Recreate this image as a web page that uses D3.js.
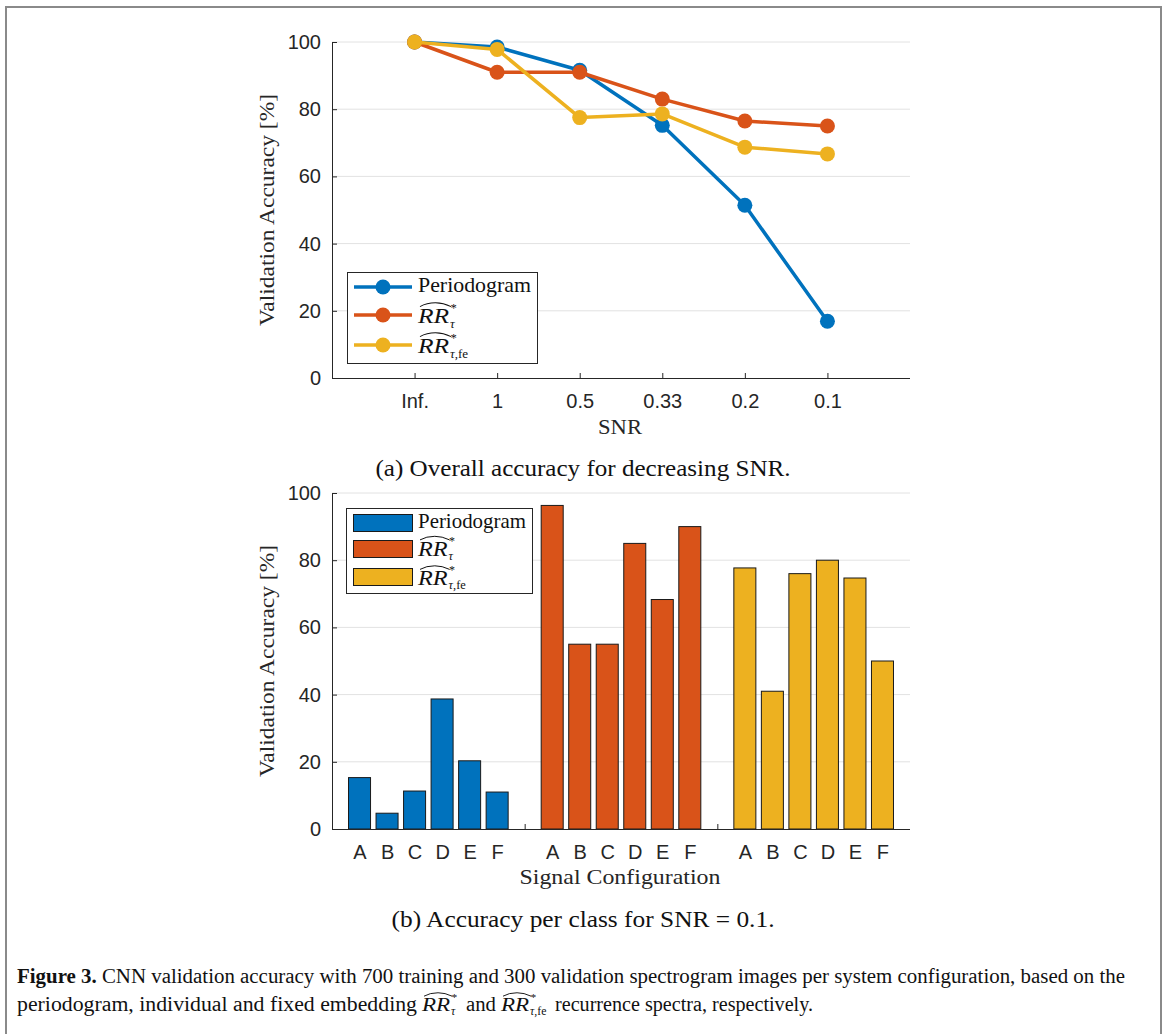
<!DOCTYPE html>
<html><head><meta charset="utf-8">
<script src="https://cdn.jsdelivr.net/npm/d3@7"></script>
<style>body{margin:0;background:#fff}</style>
</head><body><svg id="c" width="1170" height="1034"></svg>
<script>
// ---- data ----
const snrLabels = ["Inf.", "1", "0.5", "0.33", "0.2", "0.1"];
const periodogramAcc = [100, 98.5, 91.6, 75.2, 51.4, 16.9];
const rrTauAcc = [100, 91.0, 91.0, 83.0, 76.5, 75.0];
const rrFeAcc = [100, 97.8, 77.5, 78.6, 68.7, 66.7];

const configLabels = ["A", "B", "C", "D", "E", "F"];
const periodogramClass = [15.3, 4.7, 11.3, 38.7, 20.3, 11.0];
const rrTauClass = [96.3, 55.0, 55.0, 85.0, 68.3, 90.0];
const rrFeClass = [77.7, 41.0, 76.0, 80.0, 74.7, 50.0];

const seriesKeys = ["periodogram", "rrTau", "rrFe"];
const yTicks = [0, 20, 40, 60, 80, 100];

// ---- styles ----
const colors = ["#0072BD", "#D95319", "#EDB120"];
const SANS = "'Liberation Sans', Arial, sans-serif";
const SERIF = "'Liberation Serif', 'Times New Roman', serif";
const AX = "#262626";
const GRID = "#e2e2e2";

const svg = d3.select("#c");

// frame
svg.append("path").attr("d", "M6,1034 V7 H1161 V1034")
  .attr("fill", "none").attr("stroke", "#8a8a8a").attr("stroke-width", 2);

function mathRR(parent, x, y, size, fe) {
  const g = parent.append("g");
  const w = size * 1.48;
  g.append("text").attr("x", x).attr("y", y)
    .style("font-family", SERIF).style("font-style", "italic")
    .style("font-size", size + "px").attr("fill", "#111")
    .attr("textLength", w).attr("lengthAdjust", "spacingAndGlyphs").text("RR");
  const hb = y - size * 0.78, hp = y - size * 0.96;
  g.append("path")
    .attr("d", `M${x + 2},${hb} Q${x + w * 0.28},${hp} ${x + w / 2 + 2},${hp} Q${x + w * 0.75 + 2},${hp} ${x + w + 2},${hb}`)
    .attr("fill", "none").attr("stroke", "#111").attr("stroke-width", Math.max(0.9, size / 20));
  g.append("text").attr("x", x + w + 1.5).attr("y", y - size * 0.54)
    .style("font-family", SERIF).style("font-size", (size * 0.6) + "px").attr("fill", "#111").text("*");
  const s = g.append("text").attr("x", x + w + 1).attr("y", y + size * 0.22)
    .style("font-family", SERIF).style("font-size", (size * 0.62) + "px").attr("fill", "#111");
  s.append("tspan").style("font-style", "italic").text("τ");
  if (fe) s.append("tspan").text(",fe");
  return w;
}

function drawGrid(g, y, x0, x1) {
  g.append("g").selectAll("line").data(yTicks.filter(d => d > 0)).join("line")
    .attr("x1", x0).attr("x2", x1).attr("y1", d => y(d)).attr("y2", d => y(d))
    .attr("stroke", GRID).attr("stroke-width", 1);
}

function styleAxis(sel) {
  sel.selectAll("path.domain").attr("stroke", AX);
  sel.selectAll(".tick line").attr("stroke", AX);
  sel.selectAll(".tick text").attr("fill", AX).style("font-family", SANS).style("font-size", "20px");
}

function yLabel(g, cx, cy) {
  g.append("text").attr("transform", `translate(${cx},${cy}) rotate(-90)`)
    .attr("text-anchor", "middle").style("font-family", SERIF).style("font-size", "22px")
    .attr("fill", AX).attr("textLength", 232).attr("lengthAdjust", "spacingAndGlyphs")
    .text("Validation Accuracy [%]");
}

// ================= (a) line chart =================
{
  const L = 332, R = 910, T = 42, B = 378;
  const x = d3.scaleLinear().domain([0, 7]).range([L, R]);
  const y = d3.scaleLinear().domain([0, 100]).range([B, T]);
  const g = svg.append("g");
  drawGrid(g, y, L, R);

  const xa = g.append("g").attr("transform", `translate(0,${B})`)
    .call(d3.axisBottom(x).tickValues(d3.range(1, 7)).tickFormat(d => snrLabels[d - 1])
      .tickSizeInner(-5).tickSizeOuter(0).tickPadding(16));
  xa.select("path.domain").attr("d", `M${L},0.5H${R}`);
  styleAxis(xa);
  const ya = g.append("g").attr("transform", `translate(${L},0)`)
    .call(d3.axisLeft(y).tickValues(yTicks).tickSizeInner(-5).tickSizeOuter(0).tickPadding(11));
  styleAxis(ya);

  const data = [periodogramAcc, rrTauAcc, rrFeAcc];
  const line = d3.line().x((d, i) => x(i + 1)).y(d => y(d));
  data.forEach((vals, si) => {
    g.append("path").datum(vals).attr("d", line).attr("fill", "none")
      .attr("stroke", colors[si]).attr("stroke-width", 3.5).attr("stroke-linejoin", "round");
    g.append("g").selectAll("circle").data(vals).join("circle")
      .attr("cx", (d, i) => x(i + 1)).attr("cy", d => y(d)).attr("r", 7.5).attr("fill", colors[si]);
  });

  yLabel(g, 274, (T + B) / 2);
  g.append("text").attr("x", 620).attr("y", 434).attr("text-anchor", "middle")
    .style("font-family", SERIF).style("font-size", "21px").attr("fill", AX)
    .attr("textLength", 44).attr("lengthAdjust", "spacingAndGlyphs").text("SNR");

  // legend
  const lg = g.append("g");
  lg.append("rect").attr("x", 347.5).attr("y", 272.5).attr("width", 190).attr("height", 91)
    .attr("fill", "#fff").attr("stroke", AX).attr("stroke-width", 1);
  const rows = [287, 315, 345];
  seriesKeys.forEach((k, i) => {
    lg.append("line").attr("x1", 354).attr("x2", 412).attr("y1", rows[i]).attr("y2", rows[i])
      .attr("stroke", colors[i]).attr("stroke-width", 3.5);
    lg.append("circle").attr("cx", 383).attr("cy", rows[i]).attr("r", 7.5).attr("fill", colors[i]);
  });
  lg.append("text").attr("x", 418).attr("y", 292).style("font-family", SERIF).style("font-size", "21px")
    .attr("fill", "#111").attr("textLength", 113).attr("lengthAdjust", "spacingAndGlyphs").text("Periodogram");
  mathRR(lg, 418, 323, 21, false);
  mathRR(lg, 418, 353, 21, true);

  svg.append("text").attr("x", 583).attr("y", 476).attr("text-anchor", "middle")
    .style("font-family", SERIF).style("font-size", "23px").attr("fill", "#111")
    .attr("textLength", 415).attr("lengthAdjust", "spacingAndGlyphs")
    .text("(a) Overall accuracy for decreasing SNR.");
}

// ================= (b) bar chart =================
{
  const L = 332, R = 910, T = 493, B = 829;
  const x = d3.scaleLinear().domain([0, 21]).range([L, R]);
  const y = d3.scaleLinear().domain([0, 100]).range([B, T]);
  const g = svg.append("g");
  drawGrid(g, y, L, R);

  const pos = d3.range(1, 21);
  const labelAt = p => (p % 7 === 0 ? "" : configLabels[(p % 7) - 1]);
  const xa = g.append("g").attr("transform", `translate(0,${B})`)
    .call(d3.axisBottom(x).tickValues(pos).tickFormat(labelAt)
      .tickSizeInner(-5).tickSizeOuter(0).tickPadding(16));
  xa.select("path.domain").attr("d", `M${L},0.5H${R}`);
  styleAxis(xa);
  const ya = g.append("g").attr("transform", `translate(${L},0)`)
    .call(d3.axisLeft(y).tickValues(yTicks).tickSizeInner(-5).tickSizeOuter(0).tickPadding(11));
  styleAxis(ya);

  const data = [periodogramClass, rrTauClass, rrFeClass];
  const bw = (x(1) - x(0)) * 0.8;
  data.forEach((vals, si) => {
    g.append("g").selectAll("rect").data(vals).join("rect")
      .attr("x", (d, i) => x(si * 7 + i + 1) - bw / 2).attr("width", bw)
      .attr("y", d => y(d)).attr("height", d => y(0) - y(d))
      .attr("fill", colors[si]).attr("stroke", "#1a1a1a").attr("stroke-width", 1);
  });
  g.append("line").attr("x1", L).attr("x2", R).attr("y1", B + 0.5).attr("y2", B + 0.5).attr("stroke", AX);

  yLabel(g, 274, (T + B) / 2);
  g.append("text").attr("x", 620).attr("y", 884).attr("text-anchor", "middle")
    .style("font-family", SERIF).style("font-size", "21px").attr("fill", AX)
    .attr("textLength", 201).attr("lengthAdjust", "spacingAndGlyphs").text("Signal Configuration");

  const lg = g.append("g");
  lg.append("rect").attr("x", 346.5).attr("y", 508.5).attr("width", 186).attr("height", 85)
    .attr("fill", "#fff").attr("stroke", AX).attr("stroke-width", 1);
  const rows = [523, 549, 577];
  seriesKeys.forEach((k, i) => {
    lg.append("rect").attr("x", 353.5).attr("y", rows[i] - 8.5).attr("width", 59).attr("height", 17)
      .attr("fill", colors[i]).attr("stroke", "#1a1a1a").attr("stroke-width", 1);
  });
  lg.append("text").attr("x", 418).attr("y", 528).style("font-family", SERIF).style("font-size", "21px")
    .attr("fill", "#111").attr("textLength", 108).attr("lengthAdjust", "spacingAndGlyphs").text("Periodogram");
  mathRR(lg, 418, 555.5, 20, false);
  mathRR(lg, 418, 585, 20, true);

  svg.append("text").attr("x", 583).attr("y", 927).attr("text-anchor", "middle")
    .style("font-family", SERIF).style("font-size", "23px").attr("fill", "#111")
    .attr("textLength", 383).attr("lengthAdjust", "spacingAndGlyphs")
    .text("(b) Accuracy per class for SNR = 0.1.");
}

// ================= figure caption =================
{
  const fs = 20;
  const cap = svg.append("text").attr("x", 17).attr("y", 983)
    .style("font-family", SERIF).style("font-size", fs + "px").attr("fill", "#111");
  cap.append("tspan").style("font-weight", "bold").text("Figure 3.");
  cap.append("tspan").text(" CNN validation accuracy with 700 training and 300 validation spectrogram images per system configuration, based on the");
  cap.attr("textLength", 1108).attr("lengthAdjust", "spacingAndGlyphs");

  const y2 = 1011;
  function seg(str, x0, w) {
    svg.append("text").attr("x", x0).attr("y", y2)
      .style("font-family", SERIF).style("font-size", fs + "px").attr("fill", "#111")
      .attr("textLength", w).attr("lengthAdjust", "spacingAndGlyphs").text(str);
  }
  seg("periodogram, individual and fixed embedding", 17, 400);
  mathRR(svg, 422, y2, 19, false);
  seg("and", 466, 30);
  mathRR(svg, 501, y2, 19, true);
  seg("recurrence spectra, respectively.", 555, 258);
}
</script></body></html>
